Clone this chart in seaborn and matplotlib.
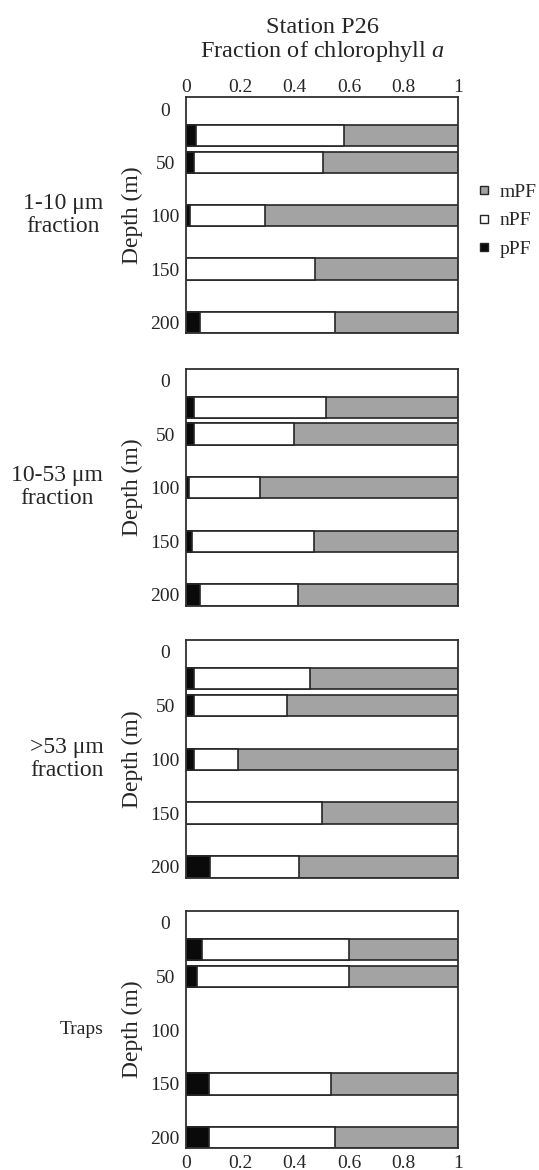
import numpy as np
import pandas as pd
import matplotlib
matplotlib.use("Agg")
import matplotlib.pyplot as plt
from matplotlib.lines import Line2D
import seaborn as sns

# ---------------- data ----------------
panel_labels = ["1-10 \u03bcm\nfraction", "10-53 \u03bcm\nfraction", ">53 \u03bcm\nfraction", "Traps"]

depths_1 = [25, 50, 100, 150, 200]
pPF_1 = [0.036, 0.028, 0.014, 0.000, 0.052]
nPF_1 = [0.545, 0.477, 0.275, 0.474, 0.497]
mPF_1 = [0.419, 0.495, 0.711, 0.526, 0.451]

depths_2 = [25, 50, 100, 150, 200]
pPF_2 = [0.029, 0.029, 0.012, 0.022, 0.052]
nPF_2 = [0.487, 0.367, 0.261, 0.449, 0.358]
mPF_2 = [0.484, 0.604, 0.727, 0.529, 0.590]

depths_3 = [25, 50, 100, 150, 200]
pPF_3 = [0.029, 0.031, 0.029, 0.000, 0.088]
nPF_3 = [0.428, 0.340, 0.163, 0.499, 0.328]
mPF_3 = [0.543, 0.629, 0.808, 0.501, 0.584]

depths_4 = [25, 50, 150, 200]
pPF_4 = [0.057, 0.042, 0.085, 0.084]
nPF_4 = [0.541, 0.558, 0.449, 0.463]
mPF_4 = [0.402, 0.400, 0.466, 0.453]

depth_ticks = [0, 50, 100, 150, 200]
frac_ticks = [0, 0.2, 0.4, 0.6, 0.8, 1]
frac_ticklabels = ["0", "0.2", "0.4", "0.6", "0.8", "1"]
legend_labels = ["mPF", "nPF", "pPF"]

panels = [
    (depths_1, pPF_1, nPF_1, mPF_1),
    (depths_2, pPF_2, nPF_2, mPF_2),
    (depths_3, pPF_3, nPF_3, mPF_3),
    (depths_4, pPF_4, nPF_4, mPF_4),
]

# ---------------- style ----------------
sns.set_style("white")
plt.rcParams["font.family"] = ["Liberation Serif", "DejaVu Serif"]
plt.rcParams["mathtext.fontset"] = "custom"
plt.rcParams["mathtext.rm"] = "Liberation Serif"
plt.rcParams["mathtext.it"] = "Liberation Serif:italic"

GRAY = "#a3a3a3"
WHITE = "#ffffff"
BLACK = "#0a0a0a"
EDGE = "#262626"
SPINE = "#303030"

W, H = 539, 1170
fig = plt.figure(figsize=(W / 100, H / 100), dpi=100)

left_px, right_px = 186, 458
panel_px = [(97.3, 333.0), (368.7, 605.7), (640.0, 877.7), (910.7, 1148.3)]
label_x_px = [63, 57, 67, 82]

for i, ((deps, p, n, m), (top, bot)) in enumerate(zip(panels, panel_px)):
    ax = fig.add_axes([left_px / W, 1 - bot / H, (right_px - left_px) / W, (bot - top) / H])
    p = np.array(p)
    n = np.array(n)
    m = np.array(m)
    total = p + n + m
    df = pd.DataFrame({"depth": deps, "total": total, "pn": p + n, "p": p})
    for col, colr in [("total", GRAY), ("pn", WHITE), ("p", BLACK)]:
        sns.barplot(data=df, x=col, y="depth", orient="h", native_scale=True,
                    color=colr, saturation=1, edgecolor=EDGE, linewidth=1.2,
                    width=0.8, errorbar=None, ax=ax)
    ax.set_xlim(0, 1)
    ax.set_ylim(210, -11)
    ax.set_yticks(depth_ticks)
    ax.set_yticklabels([str(d) for d in depth_ticks], fontsize=14, ha="center")
    ax.tick_params(axis="y", length=0, pad=15)
    ax.set_xticks(frac_ticks)
    if i == 0:
        ax.xaxis.tick_top()
        ax.set_xticklabels(frac_ticklabels, fontsize=14)
        ax.tick_params(axis="x", length=0, pad=1)
    elif i == 3:
        ax.set_xticklabels(frac_ticklabels, fontsize=14)
        ax.tick_params(axis="x", length=0, pad=5)
    else:
        ax.set_xticklabels([])
        ax.tick_params(axis="x", length=0)
    ax.set_xlabel("")
    ax.set_ylabel("Depth (m)", fontsize=17)
    ax.yaxis.set_label_coords(-0.197, 0.5)
    ax.yaxis.label.set_va("center")
    for s in ax.spines.values():
        s.set_visible(True)
        s.set_color(SPINE)
        s.set_linewidth(1.3)
    ax.grid(False)
    cy = 1 - (top + bot) / 2 / H
    fig.text(label_x_px[i] / W, cy, panel_labels[i], ha="center", va="center",
             fontsize=17 if i < 3 else 14, linespacing=1.1)

# titles
cx = (left_px + right_px) / 2 / W
fig.text(cx, 1 - 33 / H, "Station P26", ha="center", va="baseline", fontsize=17.5)
fig.text(cx, 1 - 57 / H, "Fraction of chlorophyll $\\mathit{a}$", ha="center",
         va="baseline", fontsize=17.5)

# legend
handles = [Line2D([], [], linestyle="none", marker="s", markersize=5.5,
                  markerfacecolor=c, markeredgecolor=EDGE, markeredgewidth=1.0)
           for c in [GRAY, WHITE, BLACK]]
fig.legend(handles, legend_labels, loc="center left",
           bbox_to_anchor=(474 / W, 1 - 220.5 / H), frameon=False,
           fontsize=14, handlelength=1.0, handletextpad=0.3,
           borderpad=0, borderaxespad=0, labelspacing=0.55)

fig.savefig("out.png", dpi=100)
